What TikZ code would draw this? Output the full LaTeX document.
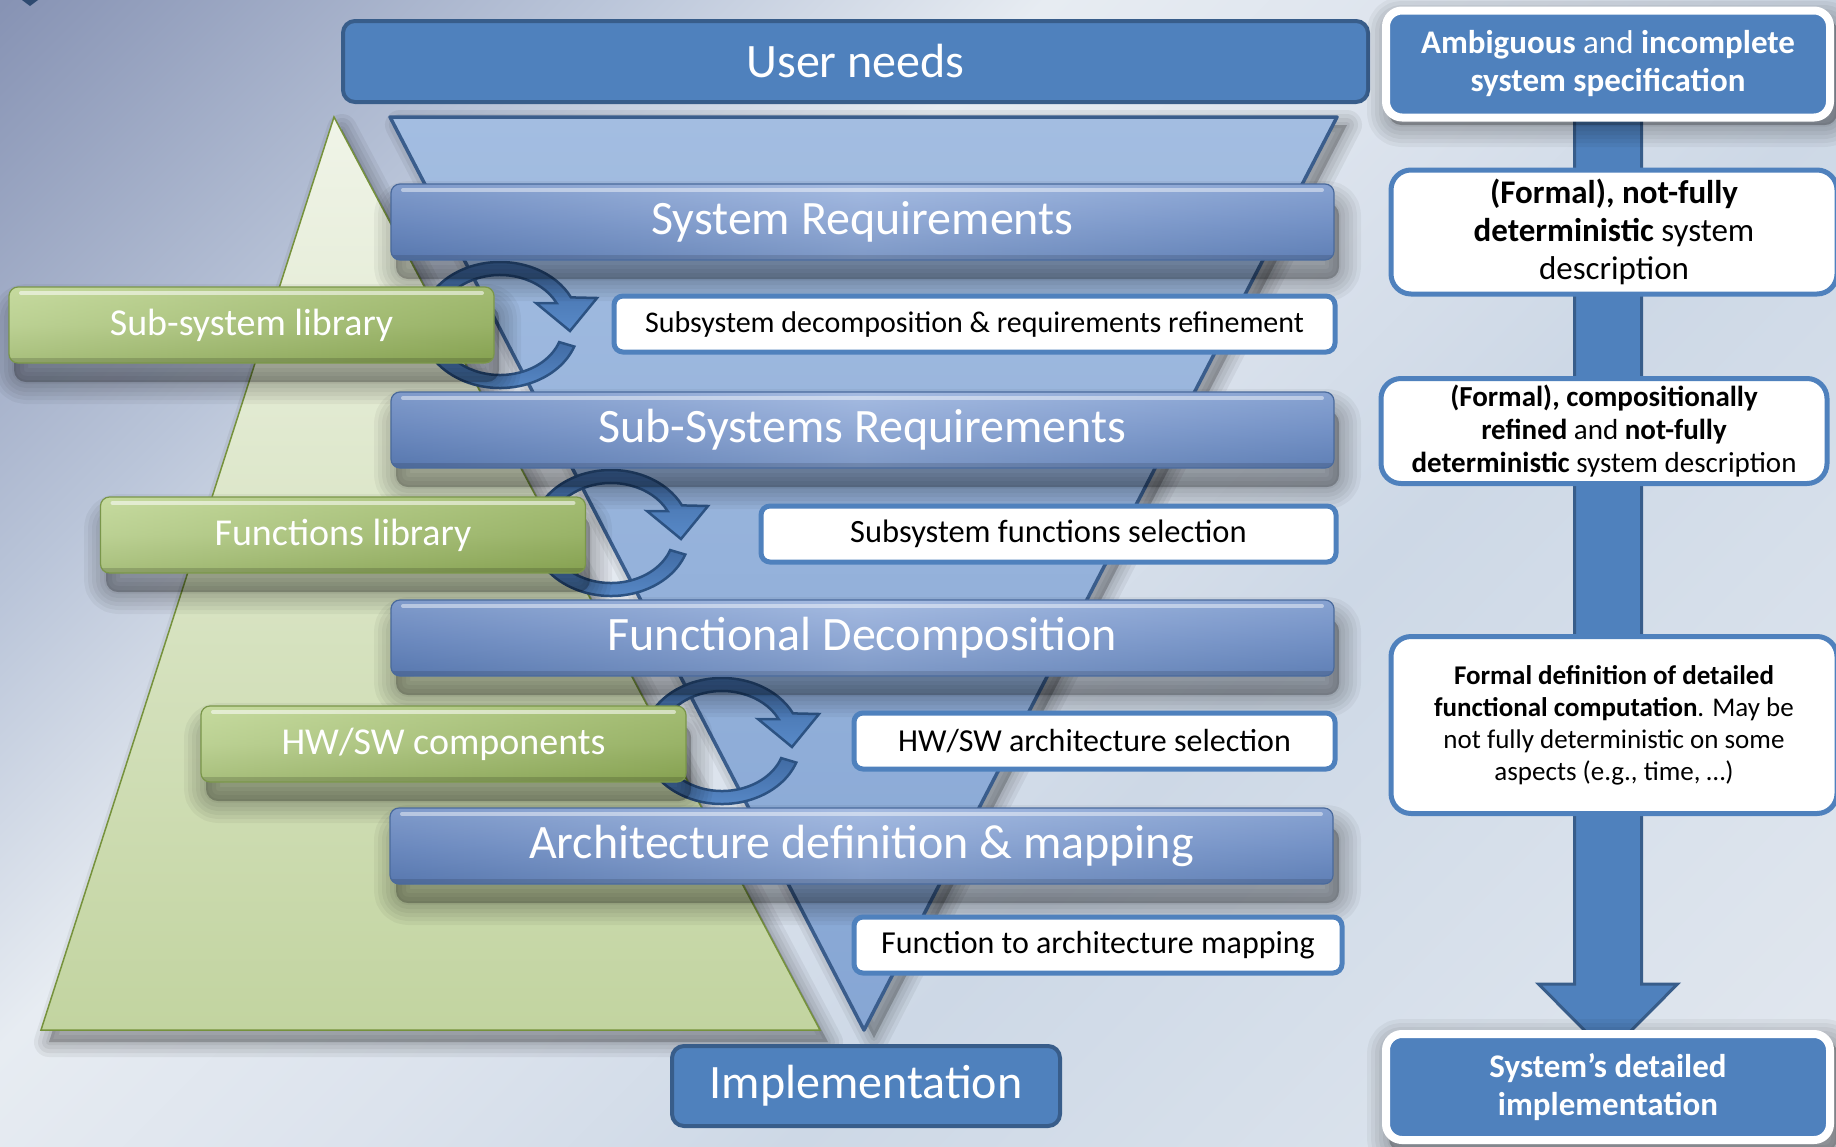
\documentclass[tikz,border=0pt]{standalone}
\usepackage{fontspec}
\setmainfont{Carlito}
\usetikzlibrary{calc}

% page background
\definecolor{bgA}{HTML}{8793B4}
\definecolor{bgB}{HTML}{BAC5D9}
\definecolor{bgC}{HTML}{E7ECF2}
\definecolor{bgD}{HTML}{DCE3ED}
\definecolor{bgE}{HTML}{CDD8E6}
\definecolor{bgF}{HTML}{DAE2EC}
\definecolor{bgG}{HTML}{E3E8EF}
% office blues
\definecolor{office}{HTML}{4F81BD}
\definecolor{officedk}{HTML}{385D8A}
% bevelled blue bars
\definecolor{barT}{HTML}{9DB4DD}
\definecolor{barM}{HTML}{7894C7}
\definecolor{barB}{HTML}{5474AA}
\definecolor{barL}{HTML}{5C7CB4}
\definecolor{barC}{HTML}{B2C6E8}
\definecolor{barR}{HTML}{6E8EC4}
\definecolor{barline}{HTML}{4A6A9C}
% bevelled green bars
\definecolor{grT}{HTML}{BDD490}
\definecolor{grM}{HTML}{A8C179}
\definecolor{grB}{HTML}{809C4A}
\definecolor{grL}{HTML}{CFE1AE}
\definecolor{grR}{HTML}{8AA556}
\definecolor{grline}{HTML}{7A964A}
% pyramid and funnel
\definecolor{pyT}{HTML}{F0F4E8}
\definecolor{pyB}{HTML}{C2D4A0}
\definecolor{pyline}{HTML}{76923C}
\definecolor{fuT}{HTML}{A3BDE1}
\definecolor{fuB}{HTML}{86A6D4}
\definecolor{fuline}{HTML}{3A5D8C}
% cycle arrows
\definecolor{ringT}{HTML}{3F69A1}
\definecolor{ringB}{HTML}{5A8CCB}
\definecolor{ringdk}{HTML}{2C5282}

\pgfdeclarehorizontalshading{pagebg}{100bp}{color(0bp)=(bgA); color(14.6bp)=(bgA); color(28.8bp)=(bgB); color(39.4bp)=(bgC); color(50bp)=(bgD); color(60.6bp)=(bgE); color(74.8bp)=(bgF); color(85.4bp)=(bgG); color(100bp)=(bgG)}

% two-part circular arrow around (#1,#2)
\newcommand\cycarrow[2]{%
  \begin{scope}[shift={(#1,#2)}]
    \path[ringband] ({79*cos(170)},{63*sin(170)})
      arc[start angle=170,end angle=334,x radius=79,y radius=63]
      -- (97,-27) -- (70,6) -- (36,-22)
      -- ({63*cos(334)},{50*sin(334)})
      arc[start angle=334,end angle=170,x radius=63,y radius=50] -- cycle;
    \path[ringband] ({79*cos(20)},{63*sin(20)})
      arc[start angle=20,end angle=165,x radius=79,y radius=63]
      -- ({63*cos(165)},{50*sin(165)})
      arc[start angle=165,end angle=20,x radius=63,y radius=50] -- cycle;
  \end{scope}}

% soft shadow of a closed polygon, shifted by (#1,#2)
\newcommand\softpoly[3]{%
  \begin{scope}[shift={(#1,#2)}]
    \foreach \w in {30,22,14,6}
      \filldraw[black,opacity=.055,line width=\w pt,line join=round] #3;
  \end{scope}}

% soft shadow of a rounded box from (#1,#2) to (#3,#4)
\newcommand\softbox[4]{%
  \begin{scope}[shift={(5,19)}]
    \foreach \w in {44,36,28,20,12,4}
      \filldraw[black,opacity=.045,line width=\w pt,line join=round,rounded corners=12pt]
        (#1,#2) rectangle (#3,#4);
  \end{scope}}

\begin{document}
\begin{tikzpicture}[x=1pt,y=-1pt,
  bluebar/.style={rounded corners=9pt,draw=barline,line width=1.2pt,
      top color=barT,bottom color=barB,middle color=barM,
      text=white,font=\fontsize{48}{56}\selectfont,
      minimum width=943pt,minimum height=76pt,inner sep=0pt,
      path picture={
        \shade[left color=barL,right color=barR,middle color=barC,fill opacity=.45]
          (path picture bounding box.south west) rectangle (path picture bounding box.north east);
        \draw[line width=4pt,white,opacity=.45,line cap=round]
          ([xshift=12pt,yshift=-6pt]path picture bounding box.north west)
          -- ([xshift=-12pt,yshift=-6pt]path picture bounding box.north east);
        \draw[line width=5pt,black,opacity=.12]
          ([yshift=3pt]path picture bounding box.south west)
          -- ([yshift=3pt]path picture bounding box.south east);}},
  greenbar/.style={rounded corners=9pt,draw=grline,line width=1.2pt,
      top color=grT,bottom color=grB,middle color=grM,
      text=white,font=\fontsize{38}{46}\selectfont,
      minimum width=485pt,minimum height=76pt,inner sep=0pt,
      path picture={
        \shade[left color=grL,right color=grR,fill opacity=.5]
          (path picture bounding box.south west) rectangle (path picture bounding box.north east);
        \draw[line width=4pt,white,opacity=.55,line cap=round]
          ([xshift=12pt,yshift=-6pt]path picture bounding box.north west)
          -- ([xshift=-12pt,yshift=-6pt]path picture bounding box.north east);
        \draw[line width=5pt,black,opacity=.15]
          ([yshift=3pt]path picture bounding box.south west)
          -- ([yshift=3pt]path picture bounding box.south east);}},
  labelbox/.style={draw=office,line width=5pt,fill=white,rounded corners=9pt,
      minimum height=56pt,inner sep=0pt,text=black,font=\fontsize{32}{38}\selectfont},
  flatbox/.style={fill=office,draw=officedk,line width=4pt,rounded corners=12pt,
      text=white,inner sep=0pt,font=\fontsize{48}{56}\selectfont},
  specbox/.style={fill=office,draw=white,line width=8pt,rounded corners=16pt,
      text=white,align=center,minimum width=444pt,inner sep=0pt,
      font=\fontsize{33}{38}\selectfont},
  descbox/.style={fill=white,draw=office,line width=5pt,rounded corners=20pt,
      text=black,align=center,minimum width=446pt,inner sep=0pt},
  ringband/.style={draw=ringdk,line width=2.5pt,top color=ringT,bottom color=ringB},
  pyramid/.style={draw=pyline,line width=1.5pt,top color=pyT,bottom color=pyB},
  funnel/.style={draw=fuline,line width=3.5pt,line join=round,top color=fuT,bottom color=fuB},
  bigarrow/.style={fill=office,draw=officedk,line width=3pt,line join=miter}
]
\useasboundingbox (0,0) rectangle (1836,1146);
\clip (0,0) rectangle (1836,1146);

\shade[shading=pagebg,shading angle=-45] (0,0) rectangle (1836,1146);
\fill[fuline!80!black] (22,0) -- (38,0) -- (30,6) -- cycle;

% library pyramid and refinement funnel
\softpoly{8}{12}{(334,117) -- (820,1030) -- (41,1030) -- cycle}
\path[pyramid] (334,117) -- (820,1030) -- (41,1030) -- cycle;
\softpoly{10}{8}{(390,117) -- (1337,117) -- (864,1030) -- cycle}
\path[funnel] (390,117) -- (1337,117) -- (864,1030) -- cycle;

% refinement cycles
\cycarrow{500}{325}
\cycarrow{611}{533}
\cycarrow{722}{741}

% shadows under the bars
\foreach \t in {184,392,600,808} \softbox{391}{\t}{1334}{\t+76};
\softbox{9}{287}{494}{363}
\softbox{101}{497}{585}{573}
\softbox{201}{706}{686}{782}

% libraries
\node[greenbar] (sslib) at (251.5,325) {Sub-system library};
\node[greenbar] (fnlib) at (343,535) {Functions library};
\node[greenbar] (hwsw) at (443.5,744) {HW/SW components};

% design steps
\node[flatbox,minimum width=1025pt,minimum height=81pt] (user) at (855.5,61.5) {User needs};
\node[bluebar] (sysreq) at (862.5,222) {System Requirements};
\node[bluebar] (subreq) at (862.5,430) {Sub-Systems Requirements};
\node[bluebar] (fdec) at (862.5,638) {Functional Decomposition};
\node[bluebar] (arch) at (861.5,846) {Architecture definition \& mapping};
\node[flatbox,minimum width=388pt,minimum height=80pt] (impl) at (866,1086) {Implementation};

% activities
\node[labelbox,minimum width=721pt,font=\fontsize{30}{36}\selectfont] (act1) at (974.5,324) {Subsystem decomposition \& requirements refinement};
\node[labelbox,minimum width=575pt,font=\fontsize{32.5}{38}\selectfont] (act2) at (1048.5,534) {Subsystem functions selection};
\node[labelbox,minimum width=481pt] (act3) at (1094.5,741) {HW/SW architecture selection};
\node[labelbox,minimum width=488pt] (act4) at (1098,945) {Function to architecture mapping};

% refinement arrow from the specification down to the implementation
\coordinate (specfoot) at (1608,100);
\coordinate (detailhead) at (1608,1032);
\path[bigarrow]
  ($(specfoot)+(-33.5,0)$) -- ($(specfoot)+(33.5,0)$)
  -- ($(detailhead)+(33.5,-48)$) -- ($(detailhead)+(69.5,-48)$)
  -- ($(detailhead)+(0,22)$)
  -- ($(detailhead)+(-69.5,-48)$) -- ($(detailhead)+(-33.5,-48)$) -- cycle;

% level of detail of the system description
\begin{scope}[shift={(0,-10)}]
  \softbox{1384}{10}{1832}{116}
\end{scope}
\begin{scope}[shift={(0,-10)}]
  \softbox{1384}{1032}{1832}{1142}
\end{scope}
\node[specbox,minimum height=107pt] (spec) at (1608,64)
  {\textbf{Ambiguous} and \textbf{incomplete}\\\textbf{system specification}};
\node[descbox,minimum height=124pt,font=\fontsize{33}{38}\selectfont] (desc1) at (1614,232)
  {\textbf{(Formal), not-fully}\\\textbf{deterministic} system\\description};
\node[descbox,minimum height=105pt,font=\fontsize{29}{33}\selectfont] (desc2) at (1604,431)
  {\textbf{(Formal), compositionally}\\\textbf{refined} and \textbf{not-fully}\\\textbf{deterministic} system description};
\node[descbox,minimum height=177pt,font=\fontsize{27}{32}\selectfont] (desc3) at (1614,725)
  {\textbf{Formal definition of detailed}\\\textbf{functional computation}. May be\\not fully deterministic on some\\aspects (e.g., time, …)};
\node[specbox,minimum height=106pt] (detail) at (1608,1087)
  {\textbf{System’s detailed}\\\textbf{implementation}};
\end{tikzpicture}
\end{document}
